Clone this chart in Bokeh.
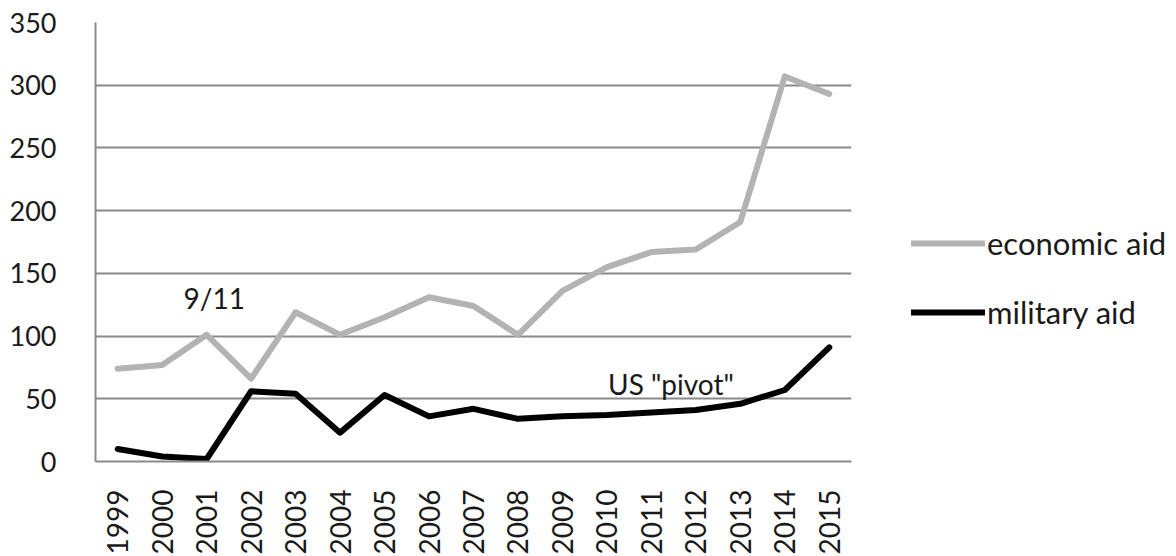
from bokeh.plotting import figure
from bokeh.models import FactorRange, Range1d, FixedTicker, Legend, LegendItem, Label
from bokeh.embed import file_html
from bokeh.resources import INLINE
import math

years = [str(y) for y in range(1999, 2016)]
economic_aid = [74, 77, 101, 66, 119, 101, 115, 131, 124, 101, 136, 155, 167, 169, 191, 307, 293]
military_aid = [10, 4, 2, 56, 54, 23, 53, 36, 42, 34, 36, 37, 39, 41, 46, 57, 91]
y_ticks = [0, 50, 100, 150, 200, 250, 300, 350]

FONT = "Lato"
GRID = "#8a8a8a"
TXT = "#1a1a1a"

p = figure(frame_width=756, frame_height=439, x_range=FactorRange(*years, range_padding=0),
           y_range=Range1d(0, 350), output_backend="svg", toolbar_location=None,
           min_border_left=95, min_border_right=0, min_border_top=22, min_border_bottom=0)
p.outline_line_color = None
p.background_fill_color = "white"

r1 = p.line(years, economic_aid, line_color="#b3b3b3", line_width=6, line_join="round", line_cap="round")
r2 = p.line(years, military_aid, line_color="black", line_width=6, line_join="round", line_cap="round")

p.yaxis.ticker = FixedTicker(ticks=y_ticks)
p.yaxis.major_label_text_font = FONT
p.yaxis.major_label_text_font_size = "27px"
p.yaxis.major_label_text_color = TXT
p.yaxis.major_label_standoff = 33
p.yaxis.major_tick_line_color = None
p.yaxis.minor_tick_line_color = None
p.yaxis.axis_line_color = GRID
p.yaxis.axis_line_width = 2

p.xaxis.major_label_orientation = math.pi / 2
p.xaxis.major_label_text_font = FONT
p.xaxis.major_label_text_font_size = "28px"
p.xaxis.major_label_text_color = TXT
p.xaxis.major_label_standoff = 22
p.xaxis.major_tick_line_color = None
p.xaxis.axis_line_color = GRID
p.xaxis.axis_line_width = 2

p.xgrid.grid_line_color = None
p.ygrid.grid_line_color = GRID
p.ygrid.grid_line_width = 2

p.add_layout(Label(x=2.67, y=130, text="9/11", text_font=FONT, text_font_size="28px",
                   text_align="center", text_baseline="middle", text_color=TXT))
p.add_layout(Label(x=12.94, y=62, text='US "pivot"', text_font=FONT, text_font_size="28px",
                   text_align="center", text_baseline="middle", text_color=TXT))

legend = Legend(items=[LegendItem(label="economic aid", renderers=[r1]),
                       LegendItem(label="military aid", renderers=[r2])],
                location=(60, 130), orientation="vertical", border_line_color=None,
                background_fill_alpha=0, glyph_width=74, glyph_height=30, label_standoff=2,
                spacing=31, padding=0, margin=0,
                label_text_font=FONT, label_text_font_size="31px", label_text_color=TXT)
p.add_layout(legend, "right")

open("out.html", "w").write(file_html(p, INLINE))
